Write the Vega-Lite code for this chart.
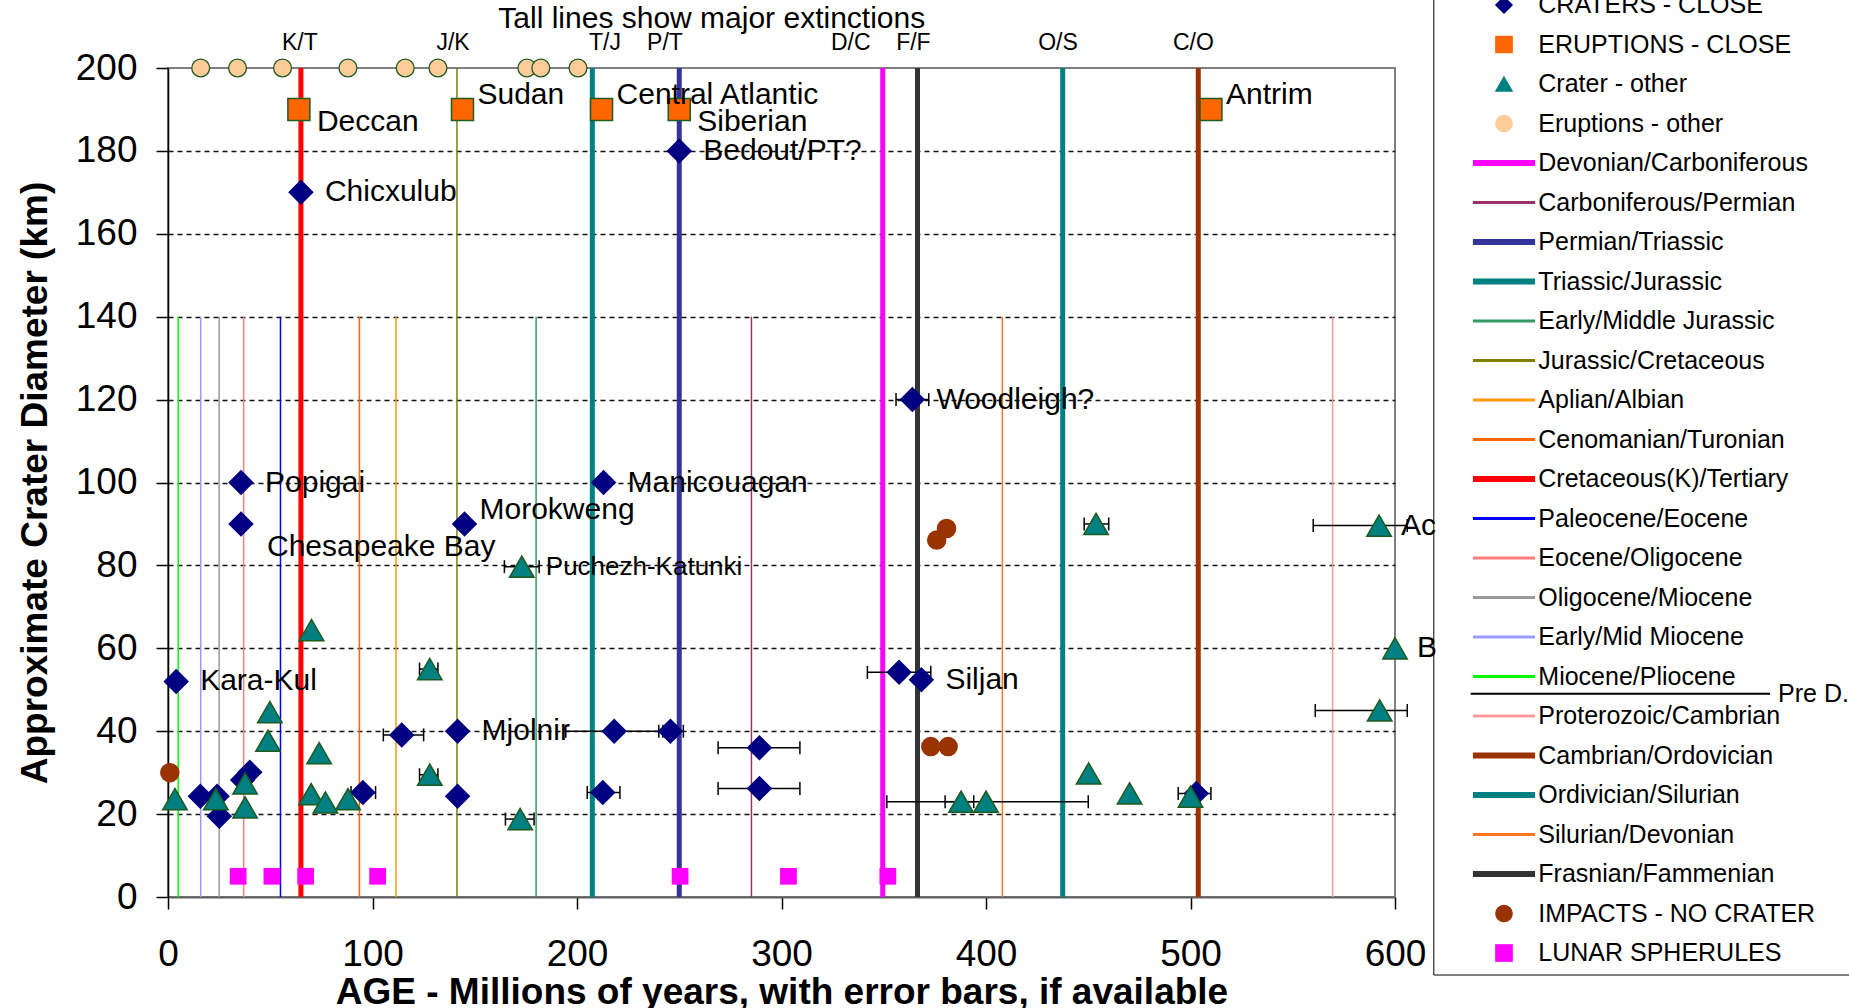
{
  "$schema": "https://vega.github.io/schema/vega-lite/v6.json",
  "width": 1227,
  "height": 829,
  "autosize": {"type": "none"},
  "padding": {"left": 168, "top": 68, "right": 454, "bottom": 111},
  "background": "white",
  "config": {
    "font": "Liberation Sans",
    "view": {"stroke": "#808080", "strokeWidth": 2}
  },
  "datasets": {
    "boundaries": [
      {"series": "Miocene/Pliocene", "age": 5, "diam": 140},
      {"series": "Early/Mid Miocene", "age": 16, "diam": 140},
      {"series": "Oligocene/Miocene", "age": 25, "diam": 140},
      {"series": "Eocene/Oligocene", "age": 37, "diam": 140},
      {"series": "Paleocene/Eocene", "age": 55, "diam": 140},
      {"series": "Cretaceous(K)/Tertiary", "age": 65, "diam": 200},
      {"series": "Cenomanian/Turonian", "age": 93.6, "diam": 140},
      {"series": "Aplian/Albian", "age": 111.5, "diam": 140},
      {"series": "Jurassic/Cretaceous", "age": 141.3, "diam": 200},
      {"series": "Early/Middle Jurassic", "age": 180, "diam": 140},
      {"series": "Triassic/Jurassic", "age": 207.5, "diam": 200},
      {"series": "Permian/Triassic", "age": 250, "diam": 200},
      {"series": "Carboniferous/Permian", "age": 285.3, "diam": 140},
      {"series": "Devonian/Carboniferous", "age": 349.5, "diam": 200},
      {"series": "Frasnian/Fammenian", "age": 366.5, "diam": 200},
      {"series": "Silurian/Devonian", "age": 408, "diam": 140},
      {"series": "Ordivician/Silurian", "age": 437.5, "diam": 200},
      {"series": "Cambrian/Ordovician", "age": 503.8, "diam": 200},
      {"series": "Proterozoic/Cambrian", "age": 569.5, "diam": 140}
    ],
    "markers": [
      {"series": "CRATERS - CLOSE", "name": "Chicxulub", "age": 65, "diam": 170},
      {"series": "CRATERS - CLOSE", "name": "Popigai", "age": 35.7, "diam": 100},
      {"series": "CRATERS - CLOSE", "name": "Chesapeake Bay", "age": 35.7, "diam": 90},
      {"series": "CRATERS - CLOSE", "name": "Morokweng", "age": 145, "diam": 90},
      {"series": "CRATERS - CLOSE", "name": "Manicouagan", "age": 213, "diam": 100},
      {"series": "CRATERS - CLOSE", "name": "Bedout/PT?", "age": 250, "diam": 180},
      {"series": "CRATERS - CLOSE", "name": "Woodleigh?", "age": 364, "diam": 120, "lo": 356, "hi": 372},
      {"series": "CRATERS - CLOSE", "name": "Kara-Kul", "age": 4, "diam": 52},
      {"series": "CRATERS - CLOSE", "name": "Mjolnir", "age": 141.6, "diam": 40},
      {"series": "CRATERS - CLOSE", "name": "Siljan", "age": 368.4, "diam": 52.4},
      {"series": "CRATERS - CLOSE", "age": 357.5, "diam": 54.2, "lo": 342, "hi": 373},
      {"series": "CRATERS - CLOSE", "age": 15.8, "diam": 24.3},
      {"series": "CRATERS - CLOSE", "age": 24, "diam": 24.3},
      {"series": "CRATERS - CLOSE", "age": 25.1, "diam": 19.5},
      {"series": "CRATERS - CLOSE", "age": 36.5, "diam": 28.2},
      {"series": "CRATERS - CLOSE", "age": 40, "diam": 30.1},
      {"series": "CRATERS - CLOSE", "age": 95.3, "diam": 25.2, "lo": 89.5, "hi": 101.5},
      {"series": "CRATERS - CLOSE", "age": 114.3, "diam": 39.1, "lo": 105.3, "hi": 125},
      {"series": "CRATERS - CLOSE", "age": 141.6, "diam": 24.3},
      {"series": "CRATERS - CLOSE", "age": 212.6, "diam": 25.2, "lo": 205, "hi": 221},
      {"series": "CRATERS - CLOSE", "age": 218.2, "diam": 40, "lo": 194.5, "hi": 242},
      {"series": "CRATERS - CLOSE", "age": 245.7, "diam": 40, "lo": 240, "hi": 252},
      {"series": "CRATERS - CLOSE", "age": 289.2, "diam": 36, "lo": 269, "hi": 309},
      {"series": "CRATERS - CLOSE", "age": 289.2, "diam": 26.2, "lo": 269, "hi": 309},
      {"series": "CRATERS - CLOSE", "age": 502.8, "diam": 25, "lo": 494, "hi": 510},
      {"series": "ERUPTIONS - CLOSE", "name": "Deccan", "age": 64, "diam": 190},
      {"series": "ERUPTIONS - CLOSE", "name": "Sudan", "age": 144, "diam": 190},
      {"series": "ERUPTIONS - CLOSE", "name": "Central Atlantic", "age": 212, "diam": 190},
      {"series": "ERUPTIONS - CLOSE", "name": "Siberian", "age": 250, "diam": 190},
      {"series": "ERUPTIONS - CLOSE", "name": "Antrim", "age": 510, "diam": 190},
      {"series": "Crater - other", "age": 3.4, "diam": 23.6},
      {"series": "Crater - other", "age": 23.4, "diam": 23.6},
      {"series": "Crater - other", "age": 37.7, "diam": 27.4},
      {"series": "Crater - other", "age": 37.7, "diam": 21.6},
      {"series": "Crater - other", "age": 49.8, "diam": 44.6},
      {"series": "Crater - other", "age": 48.9, "diam": 37.7},
      {"series": "Crater - other", "age": 70.2, "diam": 64.4},
      {"series": "Crater - other", "age": 73.9, "diam": 34.7},
      {"series": "Crater - other", "age": 70, "diam": 24.8},
      {"series": "Crater - other", "age": 77, "diam": 22.8},
      {"series": "Crater - other", "age": 88, "diam": 23.6},
      {"series": "Crater - other", "age": 128, "diam": 55, "lo": 123, "hi": 132},
      {"series": "Crater - other", "age": 128, "diam": 29.5, "lo": 123, "hi": 132},
      {"series": "Crater - other", "age": 172.2, "diam": 18.8, "lo": 165, "hi": 179},
      {"series": "Crater - other", "name": "Puchezh-Katunki", "age": 173, "diam": 79.7, "lo": 164.5, "hi": 181.5},
      {"series": "Crater - other", "age": 387.8, "diam": 23, "lo": 380, "hi": 394},
      {"series": "Crater - other", "age": 400, "diam": 23, "lo": 351.5, "hi": 450},
      {"series": "Crater - other", "age": 450.2, "diam": 29.8},
      {"series": "Crater - other", "age": 470.2, "diam": 25},
      {"series": "Crater - other", "age": 500, "diam": 24.2},
      {"series": "Crater - other", "age": 453.8, "diam": 90, "lo": 448, "hi": 460},
      {"series": "Crater - other", "name": "Acraman", "age": 592.2, "diam": 89.6, "lo": 560, "hi": 606},
      {"series": "Crater - other", "name": "Beaverhead", "age": 600, "diam": 60},
      {"series": "Crater - other", "age": 592.5, "diam": 45, "lo": 561, "hi": 606},
      {"series": "Eruptions - other", "age": 16, "diam": 200},
      {"series": "Eruptions - other", "age": 34, "diam": 200},
      {"series": "Eruptions - other", "age": 56, "diam": 200},
      {"series": "Eruptions - other", "age": 88, "diam": 200},
      {"series": "Eruptions - other", "age": 116, "diam": 200},
      {"series": "Eruptions - other", "age": 132, "diam": 200},
      {"series": "Eruptions - other", "age": 175.5, "diam": 200},
      {"series": "Eruptions - other", "age": 182.3, "diam": 200},
      {"series": "Eruptions - other", "age": 200.5, "diam": 200},
      {"series": "IMPACTS - NO CRATER", "age": 0.9, "diam": 30},
      {"series": "IMPACTS - NO CRATER", "age": 375.9, "diam": 86.1},
      {"series": "IMPACTS - NO CRATER", "age": 380.7, "diam": 88.9},
      {"series": "IMPACTS - NO CRATER", "age": 373, "diam": 36.3},
      {"series": "IMPACTS - NO CRATER", "age": 381.5, "diam": 36.3},
      {"series": "LUNAR SPHERULES", "age": 34.3, "diam": 5},
      {"series": "LUNAR SPHERULES", "age": 50.8, "diam": 5},
      {"series": "LUNAR SPHERULES", "age": 67.3, "diam": 5},
      {"series": "LUNAR SPHERULES", "age": 102.5, "diam": 5},
      {"series": "LUNAR SPHERULES", "age": 250.4, "diam": 5},
      {"series": "LUNAR SPHERULES", "age": 303.4, "diam": 5},
      {"series": "LUNAR SPHERULES", "age": 352, "diam": 5}
    ],
    "extlabels": [
      {"label": "K/T", "age": 64.5, "diam": 204.3},
      {"label": "J/K", "age": 139.4, "diam": 204.3},
      {"label": "T/J", "age": 213.7, "diam": 204.3},
      {"label": "P/T", "age": 243, "diam": 204.3},
      {"label": "D/C", "age": 333.9, "diam": 204.3},
      {"label": "F/F", "age": 364.5, "diam": 204.3},
      {"label": "O/S", "age": 435.2, "diam": 204.3},
      {"label": "C/O", "age": 501.4, "diam": 204.3}
    ],
    "note": [
      {"label": "Tall lines show major extinctions", "age": 265.9, "diam": 209.6}
    ],
    "pred": [
      {"label": "Pre D.", "age": 637, "age2": 783.4, "diam": 49.05}
    ]
  },
  "encoding": {
    "x": {
      "field": "age", "type": "quantitative",
      "title": "AGE - Millions of years, with error bars, if available",
      "scale": {"domain": [0, 600], "nice": false, "zero": false},
      "axis": {
        "values": [0, 100, 200, 300, 400, 500, 600], "format": "d",
        "grid": false, "tickSize": 12, "tickColor": "black", "tickWidth": 1.5,
        "domainColor": "#606060", "domainWidth": 2,
        "labelFont": "Liberation Sans", "labelFontSize": 37, "labelColor": "black", "labelPadding": 27,
        "labelFlush": false, "labelOverlap": false,
        "titleFont": "Liberation Sans", "titleFontSize": 37, "titleFontWeight": "bold", "titleColor": "black", "titlePadding": 2
      }
    },
    "y": {
      "field": "diam", "type": "quantitative",
      "title": "Approximate Crater Diameter (km)",
      "scale": {"domain": [0, 200], "nice": false, "zero": false},
      "axis": {
        "values": [0, 20, 40, 60, 80, 100, 120, 140, 160, 180, 200], "format": "d",
        "grid": true, "gridColor": "#111111", "gridDash": [5, 4], "gridWidth": 1.6,
        "gridOpacity": {"condition": {"test": "datum.value === 0 || datum.value === 200", "value": 0}, "value": 1},
        "tickSize": 12, "tickColor": "black", "tickWidth": 1.5,
        "domainColor": "black", "domainWidth": 1.5,
        "labelFont": "Liberation Sans", "labelFontSize": 37, "labelColor": "black", "labelPadding": 19,
        "labelOverlap": false,
        "titleFont": "Liberation Sans", "titleFontSize": 37, "titleFontWeight": "bold", "titleColor": "black", "titlePadding": 21
      }
    }
  },
  "layer": [
    {
      "data": {"name": "boundaries"},
      "transform": [{"filter": {"field": "series", "oneOf": ["Carboniferous/Permian", "Early/Middle Jurassic", "Jurassic/Cretaceous", "Aplian/Albian", "Cenomanian/Turonian", "Paleocene/Eocene", "Eocene/Oligocene", "Oligocene/Miocene", "Early/Mid Miocene", "Miocene/Pliocene", "Proterozoic/Cambrian", "Silurian/Devonian"]}}],
      "mark": {"type": "rule", "strokeWidth": 1.5},
      "encoding": {
        "y2": {"datum": 0},
        "color": {
          "field": "series", "type": "nominal",
          "scale": {
            "domain": ["CRATERS - CLOSE", "ERUPTIONS - CLOSE", "Crater - other", "Eruptions - other", "Devonian/Carboniferous", "Carboniferous/Permian", "Permian/Triassic", "Triassic/Jurassic", "Early/Middle Jurassic", "Jurassic/Cretaceous", "Aplian/Albian", "Cenomanian/Turonian", "Cretaceous(K)/Tertiary", "Paleocene/Eocene", "Eocene/Oligocene", "Oligocene/Miocene", "Early/Mid Miocene", "Miocene/Pliocene", "Proterozoic/Cambrian", "Cambrian/Ordovician", "Ordivician/Silurian", "Silurian/Devonian", "Frasnian/Fammenian", "IMPACTS - NO CRATER", "LUNAR SPHERULES"],
            "range": ["#000080", "#FF6600", "#008080", "#FFCC99", "#FF00FF", "#993366", "#333399", "#008080", "#339966", "#808000", "#FF9900", "#FF6600", "#FF0000", "#0000FF", "#FF8080", "#999999", "#9999FF", "#00FF00", "#FF9999", "#993300", "#008080", "#FF7722", "#333333", "#993300", "#FF00FF"]
          },
          "legend": {
            "orient": "none", "legendX": 1265.3, "legendY": -83.5,
            "title": null,
            "padding": 8, "strokeColor": "black",
            "symbolSize": 270, "symbolOffset": 50.2, "labelOffset": 21.8, "rowPadding": 13.5,
            "labelFont": "Liberation Sans", "labelFontSize": 25, "labelColor": "black", "labelLimit": 400,
            "encode": {
              "symbols": {
                "update": {
                  "shape": {"signal": "scale('shape', datum.value)"},
                  "fill": {"signal": "scale('color', datum.value)"},
                  "stroke": {"signal": "indexof(['ERUPTIONS - CLOSE','Crater - other','Eruptions - other'], datum.value) >= 0 ? '#1e5b1e' : 'transparent'"},
                  "strokeWidth": {"value": 1.2},
                  "size": {"value": 270},
                  "opacity": {"value": 1},
                  "fillOpacity": {"value": 1},
                  "strokeOpacity": {"value": 1}
                }
              }
            }
          }
        }
      }
    },
    {
      "data": {"name": "boundaries"},
      "transform": [{"filter": {"field": "series", "oneOf": ["Devonian/Carboniferous", "Permian/Triassic", "Triassic/Jurassic", "Cretaceous(K)/Tertiary", "Cambrian/Ordovician", "Ordivician/Silurian", "Frasnian/Fammenian"]}}],
      "mark": {"type": "rule", "strokeWidth": 5},
      "encoding": {
        "y2": {"datum": 0},
        "color": {"field": "series", "type": "nominal"}
      }
    },
    {
      "data": {"name": "markers"},
      "transform": [{"filter": "isValid(datum.lo)"}],
      "mark": {"type": "rule", "color": "black", "strokeWidth": 1.5},
      "encoding": {
        "x": {"field": "lo", "type": "quantitative", "title": "AGE - Millions of years, with error bars, if available"},
        "x2": {"field": "hi"}
      }
    },
    {
      "data": {"name": "markers"},
      "transform": [
        {"filter": "isValid(datum.lo)"},
        {"fold": ["lo", "hi"], "as": ["side", "age"]}
      ],
      "mark": {"type": "point", "shape": "M0,-1V1", "size": 169, "filled": false, "stroke": "black", "strokeWidth": 1.5, "opacity": 1}
    },
    {
      "data": {"name": "markers"},
      "transform": [{"filter": "datum.series === 'CRATERS - CLOSE'"}],
      "mark": {"type": "point", "filled": true, "size": 650, "opacity": 1, "strokeWidth": 0},
      "encoding": {
        "color": {"field": "series", "type": "nominal"},
        "shape": {
          "field": "series", "type": "nominal", "legend": null,
          "scale": {
            "domain": ["CRATERS - CLOSE", "ERUPTIONS - CLOSE", "Crater - other", "Eruptions - other", "Devonian/Carboniferous", "Carboniferous/Permian", "Permian/Triassic", "Triassic/Jurassic", "Early/Middle Jurassic", "Jurassic/Cretaceous", "Aplian/Albian", "Cenomanian/Turonian", "Cretaceous(K)/Tertiary", "Paleocene/Eocene", "Eocene/Oligocene", "Oligocene/Miocene", "Early/Mid Miocene", "Miocene/Pliocene", "Proterozoic/Cambrian", "Cambrian/Ordovician", "Ordivician/Silurian", "Silurian/Devonian", "Frasnian/Fammenian", "IMPACTS - NO CRATER", "LUNAR SPHERULES"],
            "range": ["diamond", "square", "triangle-up", "circle", "M-3.71,-0.3H3.71V0.3H-3.71Z M46,0Z", "M-3.71,-0.12H3.71V0.12H-3.71Z", "M-3.71,-0.3H3.71V0.3H-3.71Z", "M-3.71,-0.3H3.71V0.3H-3.71Z", "M-3.71,-0.12H3.71V0.12H-3.71Z", "M-3.71,-0.12H3.71V0.12H-3.71Z", "M-3.71,-0.12H3.71V0.12H-3.71Z", "M-3.71,-0.12H3.71V0.12H-3.71Z", "M-3.71,-0.3H3.71V0.3H-3.71Z", "M-3.71,-0.12H3.71V0.12H-3.71Z", "M-3.71,-0.12H3.71V0.12H-3.71Z", "M-3.71,-0.12H3.71V0.12H-3.71Z", "M-3.71,-0.12H3.71V0.12H-3.71Z", "M-3.71,-0.12H3.71V0.12H-3.71Z", "M-3.71,-0.12H3.71V0.12H-3.71Z", "M-3.71,-0.3H3.71V0.3H-3.71Z", "M-3.71,-0.3H3.71V0.3H-3.71Z", "M-3.71,-0.12H3.71V0.12H-3.71Z", "M-3.71,-0.3H3.71V0.3H-3.71Z", "circle", "square"]
          }
        }
      }
    },
    {
      "data": {"name": "markers"},
      "transform": [{"filter": "datum.series === 'ERUPTIONS - CLOSE'"}],
      "mark": {"type": "point", "filled": true, "size": 484, "opacity": 1, "stroke": "#1e5b1e", "strokeWidth": 1.5},
      "encoding": {
        "color": {"field": "series", "type": "nominal"},
        "shape": {"field": "series", "type": "nominal", "legend": null}
      }
    },
    {
      "data": {"name": "markers"},
      "transform": [{"filter": "datum.series === 'Crater - other'"}],
      "mark": {"type": "point", "filled": true, "size": 600, "opacity": 1, "stroke": "#1e5b1e", "strokeWidth": 1.5},
      "encoding": {
        "color": {"field": "series", "type": "nominal"},
        "shape": {"field": "series", "type": "nominal", "legend": null}
      }
    },
    {
      "data": {"name": "markers"},
      "transform": [{"filter": "datum.series === 'Eruptions - other'"}],
      "mark": {"type": "point", "filled": true, "size": 320, "opacity": 1, "stroke": "#1e5b1e", "strokeWidth": 1.3},
      "encoding": {
        "color": {"field": "series", "type": "nominal"},
        "shape": {"field": "series", "type": "nominal", "legend": null}
      }
    },
    {
      "data": {"name": "markers"},
      "transform": [{"filter": "datum.series === 'IMPACTS - NO CRATER'"}],
      "mark": {"type": "point", "filled": true, "size": 380, "opacity": 1, "strokeWidth": 0},
      "encoding": {
        "color": {"field": "series", "type": "nominal"},
        "shape": {"field": "series", "type": "nominal", "legend": null}
      }
    },
    {
      "data": {"name": "markers"},
      "transform": [{"filter": "datum.series === 'LUNAR SPHERULES'"}],
      "mark": {"type": "point", "filled": true, "size": 280, "opacity": 1, "strokeWidth": 0},
      "encoding": {
        "color": {"field": "series", "type": "nominal"},
        "shape": {"field": "series", "type": "nominal", "legend": null}
      }
    },
    {
      "data": {"name": "markers"},
      "transform": [{"filter": {"field": "name", "oneOf": ["Chicxulub", "Bedout/PT?", "Woodleigh?", "Popigai", "Manicouagan", "Kara-Kul", "Mjolnir", "Siljan", "Puchezh-Katunki"]}}],
      "mark": {"type": "text", "font": "Liberation Sans", "color": "black", "align": "left", "baseline": "middle", "dx": 24},
      "encoding": {
        "text": {"field": "name"},
        "size": {"condition": {"test": "datum.name === 'Puchezh-Katunki'", "value": 26}, "value": 30}
      }
    },
    {
      "data": {"name": "markers"},
      "transform": [{"filter": {"field": "name", "oneOf": ["Sudan", "Central Atlantic", "Antrim", "Morokweng"]}}],
      "mark": {"type": "text", "font": "Liberation Sans", "fontSize": 30, "color": "black", "align": "left", "baseline": "alphabetic", "dx": 15, "dy": -5},
      "encoding": {"text": {"field": "name"}}
    },
    {
      "data": {"name": "markers"},
      "transform": [{"filter": {"field": "name", "oneOf": ["Deccan", "Siberian"]}}],
      "mark": {"type": "text", "font": "Liberation Sans", "fontSize": 30, "color": "black", "align": "left", "baseline": "alphabetic", "dx": 18, "dy": 22},
      "encoding": {"text": {"field": "name"}}
    },
    {
      "data": {"name": "markers"},
      "transform": [{"filter": {"field": "name", "oneOf": ["Chesapeake Bay"]}}],
      "mark": {"type": "text", "font": "Liberation Sans", "fontSize": 30, "color": "black", "align": "left", "baseline": "alphabetic", "dx": 26, "dy": 32},
      "encoding": {"text": {"field": "name"}}
    },
    {
      "data": {"name": "markers"},
      "transform": [{"filter": {"field": "name", "oneOf": ["Acraman"]}}],
      "mark": {"type": "text", "font": "Liberation Sans", "fontSize": 30, "color": "black", "align": "left", "baseline": "middle", "dx": 22, "limit": 37, "ellipsis": "\u200b"},
      "encoding": {"text": {"field": "name"}}
    },
    {
      "data": {"name": "markers"},
      "transform": [{"filter": {"field": "name", "oneOf": ["Beaverhead"]}}],
      "mark": {"type": "text", "font": "Liberation Sans", "fontSize": 30, "color": "black", "align": "left", "baseline": "middle", "dx": 22, "limit": 24, "ellipsis": "\u200b"},
      "encoding": {"text": {"field": "name"}}
    },
    {
      "data": {"name": "extlabels"},
      "mark": {"type": "text", "font": "Liberation Sans", "fontSize": 23, "color": "black", "align": "center", "baseline": "alphabetic"},
      "encoding": {"text": {"field": "label"}}
    },
    {
      "data": {"name": "note"},
      "mark": {"type": "text", "font": "Liberation Sans", "fontSize": 30, "color": "black", "align": "center", "baseline": "alphabetic"},
      "encoding": {"text": {"field": "label"}}
    },
    {
      "data": {"name": "pred"},
      "mark": {"type": "rule", "color": "black", "strokeWidth": 2},
      "encoding": {"x2": {"field": "age2"}}
    },
    {
      "data": {"name": "pred"},
      "mark": {"type": "text", "font": "Liberation Sans", "fontSize": 25, "color": "black", "align": "left", "baseline": "middle", "dx": 8},
      "encoding": {
        "x": {"field": "age2", "type": "quantitative", "title": "AGE - Millions of years, with error bars, if available"},
        "text": {"field": "label"}
      }
    }
  ]
}
